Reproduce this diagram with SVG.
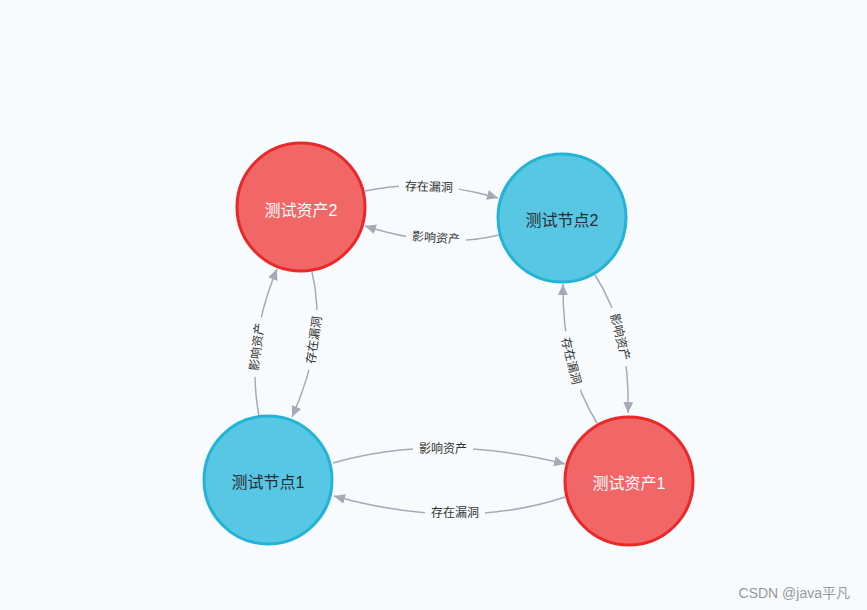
<svg xmlns="http://www.w3.org/2000/svg" width="867" height="610" viewBox="0 0 867 610">
<defs>
<marker id="arr" markerUnits="userSpaceOnUse" markerWidth="12" markerHeight="10" refX="11" refY="5" orient="auto">
<path d="M0,0 L11,5 L0,10 Z" fill="#a5abb6"/>
</marker>
<style>
.link{fill:none;stroke:#a5abb6;stroke-width:1.5;marker-end:url(#arr)}
.lbg{fill:#f8fbfe}
.lt{font-family:"Liberation Sans","Noto Sans CJK SC",sans-serif;font-size:12px;fill:#333;text-anchor:middle;dominant-baseline:central}
.red{fill:#f16667;stroke:#eb2728;stroke-width:3}
.blue{fill:#57c7e3;stroke:#23b3d7;stroke-width:3}
.nt{font-family:"Liberation Sans","Noto Sans CJK SC",sans-serif;font-size:16px;text-anchor:middle;dominant-baseline:central}
</style>
</defs>
<rect width="867" height="610" fill="#f8fbfe"/>
<g id="connectors">
<path class="link" d="M365,191 Q428.5,177.5 498,198"/>
<path class="link" d="M499,235 Q438.5,249.5 365,226"/>
<path class="link" d="M312,272 Q328,337 292,417"/>
<path class="link" d="M259,416 Q245.5,344 277,269"/>
<path class="link" d="M595,275 Q630.5,330 628,413"/>
<path class="link" d="M597,423 Q562,367 563,284"/>
<path class="link" d="M333,463 Q439,432.5 565,464"/>
<path class="link" d="M565,497 Q461,531.5 334,496"/>
<g transform="translate(429,187) rotate(2)"><rect class="lbg" x="-30" y="-7" width="60" height="14"/><text class="lt">存在漏洞</text></g>
<g transform="translate(436,238) rotate(4)"><rect class="lbg" x="-30" y="-7" width="60" height="14"/><text class="lt">影响资产</text></g>
<g transform="translate(314,340) rotate(-82)"><rect class="lbg" x="-30" y="-7" width="60" height="14"/><text class="lt">存在漏洞</text></g>
<g transform="translate(257,347) rotate(-83)"><rect class="lbg" x="-30" y="-7" width="60" height="14"/><text class="lt">影响资产</text></g>
<g transform="translate(620,337) rotate(76)"><rect class="lbg" x="-30" y="-7" width="60" height="14"/><text class="lt">影响资产</text></g>
<g transform="translate(571,361) rotate(76)"><rect class="lbg" x="-30" y="-7" width="60" height="14"/><text class="lt">存在漏洞</text></g>
<g transform="translate(443,449)"><rect class="lbg" x="-30" y="-7" width="60" height="14"/><text class="lt">影响资产</text></g>
<g transform="translate(455,513)"><rect class="lbg" x="-30" y="-7" width="60" height="14"/><text class="lt">存在漏洞</text></g>
</g>
<g id="asset2"><circle class="red" cx="301" cy="207" r="64"/><text class="nt" x="301" y="210" fill="#ffffff">测试资产2</text></g>
<g id="node2"><circle class="blue" cx="562" cy="218" r="64"/><text class="nt" x="562" y="220" fill="#2a2c34">测试节点2</text></g>
<g id="node1"><circle class="blue" cx="268" cy="480" r="64"/><text class="nt" x="268" y="482" fill="#2a2c34">测试节点1</text></g>
<g id="asset1"><circle class="red" cx="629" cy="481" r="64"/><text class="nt" x="629" y="483" fill="#ffffff">测试资产1</text></g>
<text x="850" y="598" font-family="'Liberation Sans','Noto Sans CJK SC',sans-serif" font-size="14" fill="#999999" text-anchor="end">CSDN @java平凡</text>
</svg>
